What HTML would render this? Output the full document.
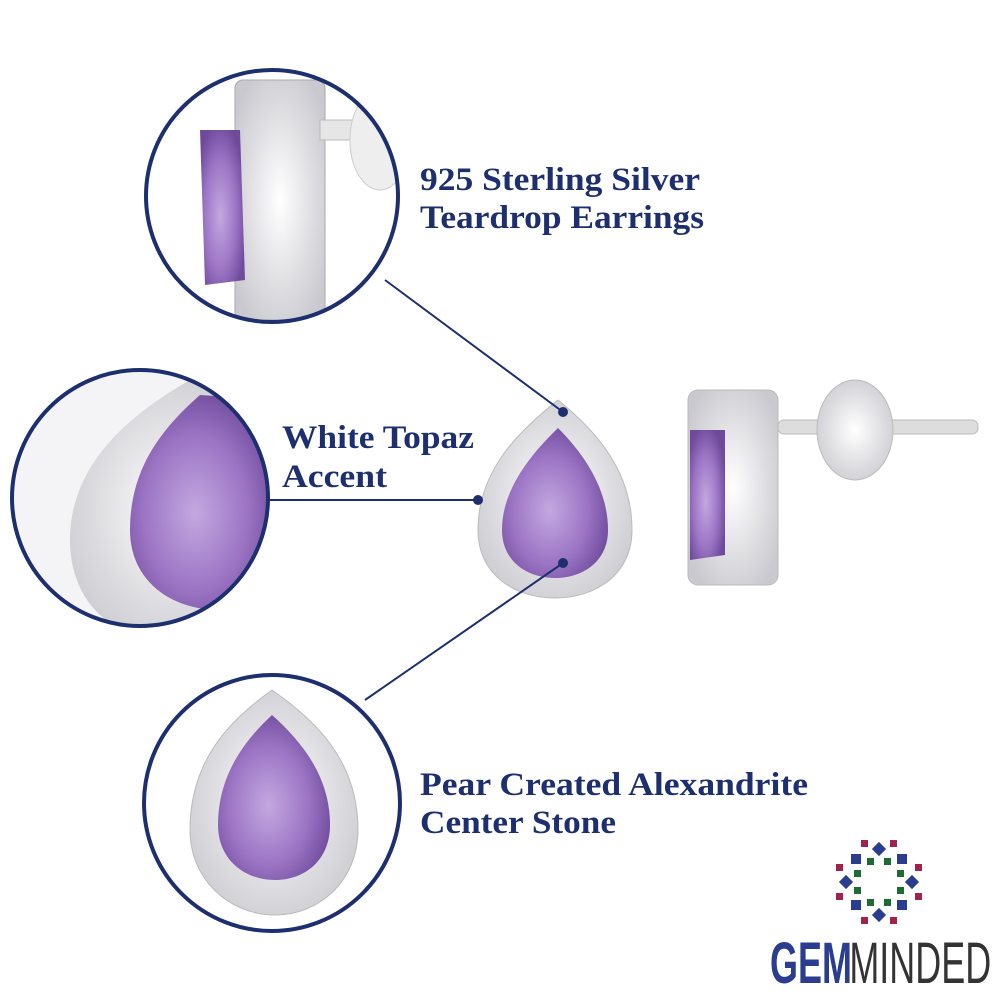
<!DOCTYPE html>
<html><head><style>
body{margin:0;width:1000px;height:1000px;background:#fff;overflow:hidden}
svg{display:block}
.t{font-family:"Liberation Serif",serif;font-weight:bold;font-size:33px;fill:#1d2f6e}
</style></head><body>
<svg width="1000" height="1000" viewBox="0 0 1000 1000">
<defs>
<radialGradient id="am" cx="45%" cy="55%" r="60%"><stop offset="0" stop-color="#c4a8e0"/><stop offset="0.6" stop-color="#9b74c4"/><stop offset="1" stop-color="#6f4a9a"/></radialGradient>
<radialGradient id="si" cx="50%" cy="50%" r="60%"><stop offset="0" stop-color="#ffffff"/><stop offset="1" stop-color="#c9c9cf"/></radialGradient>
<clipPath id="c1"><circle cx="272" cy="196" r="126"/></clipPath>
<clipPath id="c2"><circle cx="140" cy="498" r="128"/></clipPath>
<clipPath id="c3"><circle cx="272" cy="803" r="128"/></clipPath>
</defs>
<path d="M558,400 C520,430 478,470 478,530 C478,575 515,598 555,598 C595,598 632,575 632,530 C632,470 595,430 558,400Z" fill="url(#si)" stroke="#bbb"/>
<path d="M558,428 C530,455 502,490 502,530 C502,562 528,578 555,578 C582,578 608,562 608,530 C608,490 585,455 558,428Z" fill="url(#am)"/>
<rect x="688" y="390" width="90" height="195" rx="10" fill="url(#si)" stroke="#bbb"/>
<path d="M690,430 L725,430 L725,555 L690,560Z" fill="url(#am)"/>
<rect x="778" y="420" width="200" height="14" rx="6" fill="#ddd" stroke="#bbb"/>
<ellipse cx="855" cy="430" rx="38" ry="50" fill="url(#si)" stroke="#bbb"/>
<g clip-path="url(#c1)">
<rect x="150" y="70" width="250" height="260" fill="#fff"/>
<rect x="235" y="80" width="90" height="240" rx="8" fill="url(#si)" stroke="#aaa"/>
<path d="M200,130 L240,130 L245,280 L205,285Z" fill="url(#am)"/>
<rect x="320" y="120" width="110" height="20" fill="#e6e6e6" stroke="#bbb"/>
<ellipse cx="380" cy="140" rx="30" ry="50" fill="#eee" stroke="#ccc"/>
</g>
<circle cx="272" cy="196" r="126" fill="none" stroke="#1d2f6e" stroke-width="4"/>
<g clip-path="url(#c2)">
<rect x="0" y="360" width="280" height="280" fill="#f4f4f6"/>
<path d="M190,380 C120,420 70,470 70,540 C70,600 110,640 170,640 L280,640 L280,380Z" fill="url(#si)"/>
<path d="M200,395 C160,430 130,470 130,530 C130,580 170,610 220,610 C255,610 275,580 275,540 L275,400Z" fill="url(#am)"/>
</g>
<circle cx="140" cy="498" r="128" fill="none" stroke="#1d2f6e" stroke-width="4"/>
<g clip-path="url(#c3)">
<rect x="140" y="670" width="270" height="270" fill="#fff"/>
<path d="M272,690 C230,720 190,760 190,830 C190,880 230,915 275,915 C320,915 358,880 358,830 C358,760 315,720 272,690Z" fill="url(#si)" stroke="#bbb"/>
<path d="M272,715 C245,740 218,775 218,825 C218,860 245,880 275,880 C305,880 330,860 330,825 C330,775 300,740 272,715Z" fill="url(#am)"/>
</g>
<circle cx="272" cy="803" r="128" fill="none" stroke="#1d2f6e" stroke-width="4"/>
<g stroke="#1d2f6e" stroke-width="2">
<line x1="385" y1="280" x2="563" y2="412"/>
<line x1="270" y1="500" x2="478" y2="500"/>
<line x1="365" y1="700" x2="563" y2="563"/>
</g>
<g fill="#1d2f6e"><circle cx="563" cy="412" r="5"/><circle cx="478" cy="500" r="5"/><circle cx="563" cy="563" r="5"/></g>
<text class="t" x="420" y="190" textLength="280" lengthAdjust="spacingAndGlyphs">925 Sterling Silver</text>
<text class="t" x="420" y="228" textLength="284" lengthAdjust="spacingAndGlyphs">Teardrop Earrings</text>
<text class="t" x="282" y="448" textLength="192" lengthAdjust="spacingAndGlyphs">White Topaz</text>
<text class="t" x="282" y="487" textLength="105" lengthAdjust="spacingAndGlyphs">Accent</text>
<text class="t" x="420" y="795" textLength="388" lengthAdjust="spacingAndGlyphs">Pear Created Alexandrite</text>
<text class="t" x="420" y="833" textLength="196" lengthAdjust="spacingAndGlyphs">Center Stone</text>
<g transform="translate(879,882)">
<g fill="#2a3d8f">
<rect x="-5" y="-38" width="10" height="10" transform="rotate(45 0 -33)"/>
<rect x="-5" y="28" width="10" height="10" transform="rotate(45 0 33)"/>
<rect x="-38" y="-5" width="10" height="10" transform="rotate(45 -33 0)"/>
<rect x="28" y="-5" width="10" height="10" transform="rotate(45 33 0)"/>
<rect x="-28" y="-28" width="10" height="10"/><rect x="18" y="-28" width="10" height="10"/>
<rect x="-28" y="18" width="10" height="10"/><rect x="18" y="18" width="10" height="10"/>
</g>
<g fill="#a3224a">
<rect x="-18" y="-42" width="7" height="7"/><rect x="11" y="-42" width="7" height="7"/>
<rect x="-18" y="35" width="7" height="7"/><rect x="11" y="35" width="7" height="7"/>
<rect x="-43" y="-18" width="7" height="7"/><rect x="36" y="-18" width="7" height="7"/>
<rect x="-43" y="11" width="7" height="7"/><rect x="36" y="11" width="7" height="7"/>
</g>
<g fill="#1f6a35">
<rect x="-12" y="-24" width="7" height="7"/><rect x="5" y="-24" width="7" height="7"/>
<rect x="-12" y="17" width="7" height="7"/><rect x="5" y="17" width="7" height="7"/>
<rect x="-25" y="-12" width="7" height="7"/><rect x="18" y="-12" width="7" height="7"/>
<rect x="-25" y="5" width="7" height="7"/><rect x="18" y="5" width="7" height="7"/>
</g>
</g>
<g transform="translate(770,983) scale(0.62,1)">
<text x="0" y="0" font-family="Liberation Sans,sans-serif" font-size="58" font-weight="bold" fill="#2a3d8f">GEM</text>
<text x="128" y="0" font-family="Liberation Sans,sans-serif" font-size="58" fill="#333" style="font-weight:normal">MINDED</text>
</g>
</svg>
</body></html>
